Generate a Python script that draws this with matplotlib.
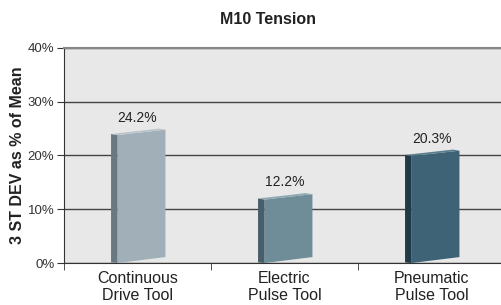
import matplotlib.pyplot as plt
from matplotlib.patches import Polygon
from matplotlib.ticker import FuncFormatter

plt.rcParams['font.family'] = ['Liberation Sans', 'DejaVu Sans']

# data
tools = ['Continuous\nDrive Tool', 'Electric\nPulse Tool', 'Pneumatic\nPulse Tool']
values = [24.2, 12.2, 20.3]
labels = ['24.2%', '12.2%', '20.3%']

# colours: front, side, top
front_cols = ['#a1afb8', '#6f8c99', '#3f6376']
side_cols = ['#6a7882', '#475f6a', '#203a47']
top_cols = ['#b9c4cb', '#8ea8b3', '#5b7e8f']

fig = plt.figure(figsize=(5.02, 3.05), dpi=100)
ax = fig.add_axes([0.1275, 0.1377, 0.8785, 0.705])
ax.set_facecolor('#e8e8e8')

# bar geometry (category units / percent)
sl, fl, fr = -0.18, -0.135, 0.19
for i, v in enumerate(values):
    front = [(i + fl, 0), (i + fr, 1.1), (i + fr, v + 0.6), (i + fl, v - 0.4)]
    side = [(i + sl, 0.1), (i + fl, 0), (i + fl, v - 0.4), (i + sl, v - 0.2)]
    top = [(i + sl, v - 0.2), (i + fl, v - 0.4), (i + fr, v + 0.6), (i + fr - 0.045, v + 0.8)]
    ax.add_patch(Polygon(side, closed=True, fc=side_cols[i], ec='none', zorder=3))
    ax.add_patch(Polygon(front, closed=True, fc=front_cols[i], ec='none', zorder=3))
    ax.add_patch(Polygon(top, closed=True, fc=top_cols[i], ec='none', zorder=3))
    ax.text(i, v + 2.8, labels[i], ha='center', va='center', fontsize=10, color='#222222')

ax.set_xlim(-0.5, 2.5)
ax.set_ylim(0, 40)
ax.set_yticks([0, 10, 20, 30, 40])
ax.yaxis.set_major_formatter(FuncFormatter(lambda y, p: '%d%%' % y))
ax.grid(axis='y', color='#444444', linewidth=1.0, zorder=1)
ax.set_axisbelow(True)

ax.set_xticks([0, 1, 2])
ax.set_xticklabels(tools, fontsize=11.5, color='#222222', linespacing=1.1)
ax.set_xticks([-0.5, 0.5, 1.5, 2.5], minor=True)
ax.tick_params(axis='x', which='major', length=0, pad=6)
ax.tick_params(axis='x', which='minor', length=5, direction='out', color='#333333')
ax.tick_params(axis='y', length=5, direction='out', color='#333333', labelsize=9.5,
               labelcolor='#333333', pad=2)

ax.spines['right'].set_visible(False)
ax.spines['top'].set_color('#888888')
ax.spines['top'].set_linewidth(1.5)
ax.spines['left'].set_color('#333333')
ax.spines['bottom'].set_color('#333333')

ax.set_ylabel('3 ST DEV as % of Mean', fontsize=11.5, fontweight='bold', color='#222222', labelpad=2)
fig.text(0.534, 0.935, 'M10 Tension', ha='center', va='center', fontsize=11.5, fontweight='bold',
         color='#222222')

fig.savefig('out.png', dpi=100)
